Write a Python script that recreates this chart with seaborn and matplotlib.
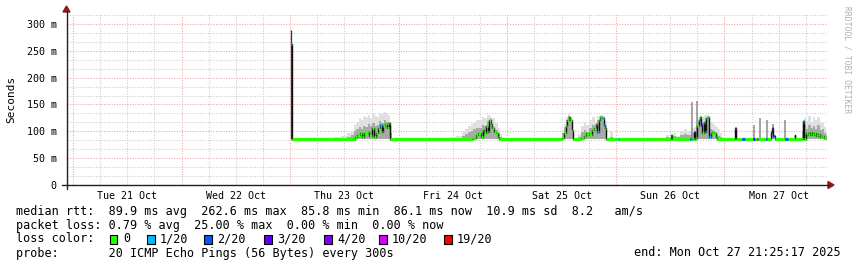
import numpy as np
import pandas as pd
import matplotlib
matplotlib.use("Agg")
import matplotlib.pyplot as plt
import seaborn as sns
from matplotlib.lines import Line2D
from matplotlib.patches import Rectangle, Polygon
from matplotlib.ticker import FixedLocator, MultipleLocator, NullFormatter, FuncFormatter

# ---------------- data (x in hours since Tue 21 Oct 00:00) ----------------
day_labels = ["Tue 21 Oct", "Wed 22 Oct", "Thu 23 Oct", "Fri 24 Oct",
              "Sat 25 Oct", "Sun 26 Oct", "Mon 27 Oct"]
y_labels = ["0", "50 m", "100 m", "150 m", "200 m", "250 m", "300 m"]
y_values = [0, 50, 100, 150, 200, 250, 300]

loss_labels = ["0", "1/20", "2/20", "3/20", "4/20", "10/20", "19/20"]
loss_colors = ["#26ff00", "#00b8ff", "#0059ff", "#5e00ff", "#7e00ff", "#dd00ff", "#ff0000"]

# median rtt (ms), with loss level index per sample
med_t = [48.2, 48.45, 62.0, 62.3, 62.8, 63.4, 63.8, 64.3, 65.1, 65.5, 66.0, 66.5, 67.0,
         67.5, 67.9, 68.2, 68.6, 69.0, 69.5, 69.8, 70.1,
         88.2, 88.5, 89.1, 89.6, 90.1, 90.6, 90.9, 91.3, 91.7, 92.0, 92.3, 92.7, 93.1,
         93.5, 93.9, 94.2,
         108.2, 108.6, 109.0, 109.3, 109.6, 109.9, 110.2, 110.5,
         112.4, 113.0, 113.5, 114.1, 114.7, 115.2, 115.5, 115.9, 116.3, 116.6, 117.0,
         117.4, 117.7, 117.9,
         120.4, 120.7, 132.0, 132.1, 132.3,
         136.3, 136.6, 136.9, 137.2, 137.5, 137.7, 138.0, 138.3, 138.6, 138.9, 139.1,
         139.4, 139.7, 140.0, 140.3, 140.6, 141.0, 141.3, 141.7, 142.1, 142.4,
         146.2, 146.3, 146.5, 147.9, 148.6, 150.4, 150.7, 151.1, 151.4, 153.1, 153.4,
         154.2, 154.5, 154.8, 155.1, 157.4, 158.0, 159.5, 159.7, 161.3, 161.5,
         162.0, 162.4, 162.9, 163.4, 163.8, 164.3, 164.7, 165.2, 165.6, 166.1, 166.67]
med_v = [262.6, 86, 86, 90, 93, 97, 90, 96, 99, 91, 106, 90, 96,
         106, 112, 99, 109, 114, 106, 116, 86,
         86, 87, 93, 96, 90, 102, 96, 109, 99, 122, 114, 106, 99,
         96, 89, 86,
         87, 96, 109, 121, 127, 121, 102, 86,
         87, 91, 96, 93, 102, 106, 114, 99, 121, 127, 124,
         112, 106, 86,
         86, 86, 86, 93, 86,
         86, 86, 86, 99, 86, 87, 109, 121, 127, 112, 96,
         118, 99, 124, 127, 90, 96, 99, 96, 90, 86,
         86, 106, 86, 86, 86, 86, 86, 86, 86, 86, 86,
         99, 106, 92, 86, 86, 86, 93, 86, 120, 86,
         96, 93, 99, 93, 97, 91, 95, 89, 92, 88, 86]
med_loss = [1, 0, 0, 0, 0, 0, 0, 0, 0, 0, 0, 0, 0,
            0, 1, 0, 0, 0, 0, 0, 0,
            0, 0, 0, 0, 0, 0, 0, 0, 0, 0, 0, 0, 0,
            0, 0, 0,
            0, 0, 0, 0, 0, 0, 0, 0,
            0, 0, 0, 0, 0, 0, 0, 1, 0, 0, 1,
            1, 0, 0,
            1, 0, 0, 0, 0,
            2, 1, 0, 3, 0, 0, 0, 1, 0, 3, 0,
            0, 1, 1, 0, 1, 0, 0, 0, 0, 0,
            0, 5, 0, 2, 0, 3, 0, 4, 0, 2, 0,
            2, 5, 2, 0, 2, 0, 0, 0, 1, 0,
            0, 0, 0, 0, 0, 0, 0, 0, 0, 0, 0]

# smoke (ping distribution): inner and outer upper envelope (ms)
smoke_t = [48.3, 57.0, 58.5, 60.0, 61.0, 61.8, 62.4, 62.9, 63.4, 63.9, 64.4, 64.9, 65.4,
           65.9, 66.4, 66.9, 67.4, 67.9, 68.4, 68.9, 69.4, 69.9, 70.3, 70.6,
           82.5, 84.0, 85.5, 86.3, 87.0, 87.6, 88.2, 88.8, 89.4, 90.0, 90.6, 91.2, 91.8,
           92.4, 93.0, 93.6, 94.2, 94.6, 95.0,
           107.8, 108.3, 108.8, 109.2, 109.6, 110.0, 110.4, 110.8,
           111.4, 112.0, 112.6, 113.2, 113.8, 114.4, 115.0, 115.6, 116.2, 116.8, 117.4,
           117.9, 118.3, 119.0, 119.6,
           130.5, 131.5, 132.2, 133.0, 133.8, 134.6, 135.4, 136.2, 137.0, 137.5,
           137.9, 138.3, 138.7, 139.1, 139.5, 139.9, 140.3, 140.7, 141.1, 141.5, 141.9,
           142.3, 142.8, 143.3, 143.8,
           160.8, 161.3, 161.8, 162.3, 162.8, 163.3, 163.8, 164.3, 164.8, 165.3, 165.8,
           166.3, 166.67]
smoke_hi = [86, 86, 90, 92, 97, 100, 112, 118, 125, 121, 128, 126, 131,
            124, 133, 128, 126, 135, 132, 136, 134, 130, 110, 86,
            86, 89, 92, 99, 104, 109, 113, 118, 122, 121, 127, 125, 130,
            127, 124, 115, 106, 95, 86,
            86, 100, 114, 127, 132, 127, 110, 86,
            86, 95, 110, 118, 112, 122, 126, 118, 128, 131, 129,
            120, 86, 100, 86,
            86, 93, 90, 96, 92, 100, 104, 101, 106, 108,
            115, 126, 130, 124, 128, 130, 131, 122, 118, 116, 112,
            108, 104, 97, 86,
            86, 112, 125, 120, 128, 118, 126, 121, 127, 116, 118,
            108, 100]
smoke_mid = [86, 86, 87, 88, 90, 93, 100, 104, 108, 104, 110, 108, 113,
             110, 116, 110, 112, 120, 115, 121, 118, 117, 96, 86,
             86, 87, 88, 92, 95, 98, 100, 104, 107, 106, 112, 110, 120,
             113, 108, 102, 96, 90, 86,
             86, 96, 108, 122, 129, 122, 104, 86,
             86, 90, 98, 102, 98, 106, 112, 106, 121, 127, 120,
             108, 86, 90, 86,
             86, 89, 88, 91, 89, 93, 95, 93, 96, 98,
             108, 120, 126, 115, 118, 125, 127, 108, 104, 102, 98,
             94, 92, 89, 86,
             86, 100, 112, 104, 112, 106, 110, 105, 112, 103, 104,
             97, 93]

# isolated smoke spikes (max ping)
spike_t = [136.8, 138.0, 150.5, 151.8, 153.3, 154.7, 157.4]
spike_top = [155, 156, 112, 124, 121, 114, 121]
start_t = 48.2
start_top = 288
baseline = 86

# ---------------- figure ----------------
sns.set_theme(style="white")
plt.rcParams["font.family"] = ["DejaVu Sans Mono", "DejaVu Sans"]

W, H = 857, 267
fig = plt.figure(figsize=(W / 100, H / 100), dpi=100)
fig.patch.set_facecolor("white")


def fx(x):
    return x / W


def fy(y):
    return 1 - y / H


ax = fig.add_axes([fx(67), fy(185), 760 / W, 170 / H])
ax.set_facecolor("white")
ax.set_xlim(-1.33, 166.67)
ax.set_ylim(0, 316.67)

# grid
midnights = [i * 24 for i in range(len(day_labels))]
ax.xaxis.set_major_locator(FixedLocator(midnights))
ax.xaxis.set_major_formatter(NullFormatter())
ax.xaxis.set_minor_locator(MultipleLocator(6))


def xlab(v, pos):
    k = (v - 12) / 24
    if abs(k - round(k)) < 1e-6 and 0 <= round(k) < len(day_labels):
        return day_labels[int(round(k))]
    return ""


ax.xaxis.set_minor_formatter(FuncFormatter(xlab))
ax.yaxis.set_major_locator(FixedLocator(y_values))
ax.set_yticklabels(y_labels)
ax.yaxis.set_minor_locator(MultipleLocator(50 / 3))

ax.grid(which="major", color="#eaa4a4", linestyle=(0, (1, 1.5)), linewidth=0.75)
ax.grid(which="minor", color="#cacaca", linestyle=(0, (1, 1.5)), linewidth=0.75)
ax.set_axisbelow(True)
for s in ax.spines.values():
    s.set_visible(False)

ax.tick_params(axis="x", which="both", labelsize=7.2, colors="black", length=2,
               width=0.7, pad=2.5, direction="out")
ax.tick_params(axis="x", which="major", length=3)
ax.tick_params(axis="y", which="major", labelsize=7.2, colors="black", length=3,
               width=0.7, pad=4.5)
ax.tick_params(axis="y", which="minor", length=0)
for lab in ax.get_xticklabels(minor=True) + ax.get_yticklabels():
    lab.set_color("black")

# smoke
ax.fill_between(smoke_t, baseline - 1, smoke_hi, step="mid", color="#e0e0e0",
                linewidth=0, zorder=2)
ax.fill_between(smoke_t, baseline - 1, smoke_mid, step="mid", color="#a9a9a9",
                linewidth=0, zorder=2.1)
ax.vlines(spike_t, baseline, spike_top, color="#8c8c8c", linewidth=1.1, zorder=2.2)
ax.vlines([start_t], baseline, [start_top], color="#303030", linewidth=0.9, zorder=2.2)

# median line
df = pd.DataFrame({"t": med_t, "v": med_v, "loss": med_loss})
sns.lineplot(data=df, x="t", y="v", ax=ax, color="#101010", linewidth=1.0,
             drawstyle="steps-post", estimator=None, sort=False, legend=False,
             zorder=3)
t_next = med_t[1:] + [med_t[-1]]
ax.hlines(med_v, med_t, t_next, colors=[loss_colors[k] for k in med_loss],
          linewidth=2.3, zorder=4, capstyle="butt")
ax.set_xlabel("")
ax.set_ylabel("")

# axes with arrows
axis_col = "#202020"
arrow_col = "#8b1a1a"
fig.add_artist(Line2D([fx(62), fx(829)], [fy(185), fy(185)], color=axis_col,
                      linewidth=1.0, transform=fig.transFigure))
fig.add_artist(Line2D([fx(66.5), fx(66.5)], [fy(189), fy(11)], color=axis_col,
                      linewidth=1.0, transform=fig.transFigure))
fig.add_artist(Polygon([[fx(828), fy(181.5)], [fx(834), fy(185)], [fx(828), fy(188.5)]],
                       closed=True, color=arrow_col, transform=fig.transFigure))
fig.add_artist(Polygon([[fx(63), fy(12)], [fx(66.5), fy(6)], [fx(70), fy(12)]],
                       closed=True, color=arrow_col, transform=fig.transFigure))

# labels
fig.text(fx(11), fy(99), "Seconds", rotation=90, ha="center", va="center",
         fontsize=8, color="black")
fig.text(fx(847), fy(60), "RRDTOOL / TOBI OETIKER", rotation=270, ha="center",
         va="center", fontsize=5.8, color="#b0b0b0")

fs = 8.5
fig.text(fx(16), fy(211),
         "median rtt:  89.9 ms avg  262.6 ms max  85.8 ms min  86.1 ms now  10.9 ms sd  8.2   am/s",
         fontsize=fs, va="center", ha="left", color="black")
fig.text(fx(16), fy(225), "packet loss: 0.79 % avg  25.00 % max  0.00 % min  0.00 % now",
         fontsize=fs, va="center", ha="left", color="black")
fig.text(fx(16), fy(239), "loss color:", fontsize=fs, va="center", ha="left", color="black")
fig.text(fx(16), fy(253), "probe:       20 ICMP Echo Pings (56 Bytes) every 300s",
         fontsize=fs, va="center", ha="left", color="black")
fig.text(fx(841), fy(253), "end: Mon Oct 27 21:25:17 2025", fontsize=fs, va="center",
         ha="right", color="black")

box_x = [110, 147, 204, 264, 324, 379, 444]
for bx, lab, col in zip(box_x, loss_labels, loss_colors):
    fig.add_artist(Rectangle((fx(bx), fy(243.5)), 7.5 / W, 9 / H, facecolor=col,
                             edgecolor="black", linewidth=0.8,
                             transform=fig.transFigure))
    fig.text(fx(bx + 13), fy(239), lab, fontsize=fs, va="center", ha="left",
             color="black")

fig.savefig("out.png", dpi=100, facecolor="white")
